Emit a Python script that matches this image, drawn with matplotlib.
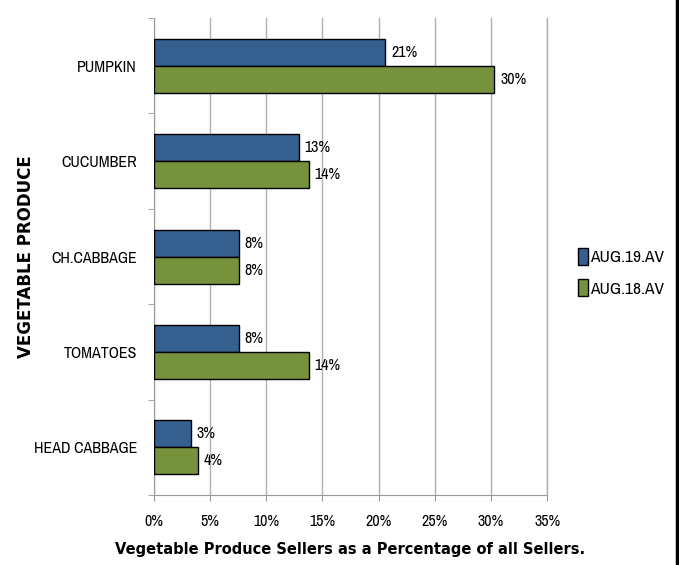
import numpy as np
import matplotlib
matplotlib.use("Agg")
import matplotlib.pyplot as plt
from matplotlib.patches import Patch
from matplotlib import font_manager

# pick a narrow face to stand in for Calibri
names = sorted({f.name for f in font_manager.fontManager.ttflist})
narrow = [n for n in names if "Narrow" in n or "Condensed" in n]
FAM = narrow[0] if narrow else "DejaVu Sans"
plt.rcParams["font.family"] = [FAM, "DejaVu Sans"]
plt.rcParams["font.stretch"] = "condensed"

BLUE = "#355f8f"
GREEN = "#76923c"

categories = ["HEAD CABBAGE", "TOMATOES", "CH.CABBAGE", "CUCUMBER", "PUMPKIN"]
aug19 = [3.3, 7.6, 7.6, 12.9, 20.6]
aug18 = [3.9, 13.8, 7.55, 13.8, 30.3]
labels19 = ["3%", "8%", "8%", "13%", "21%"]
labels18 = ["4%", "14%", "8%", "14%", "30%"]
xticks = [0, 5, 10, 15, 20, 25, 30, 35]

fig = plt.figure(figsize=(6.79, 5.65), dpi=100)
ax = fig.add_axes([0.2264, 0.1239, 0.5797, 0.8442])

y = np.arange(len(categories))
h = 0.283
ax.barh(y + h / 2, aug19, height=h, color=BLUE, edgecolor="black", lw=1.0,
        label="AUG.19.AV", zorder=3)
ax.barh(y - h / 2, aug18, height=h, color=GREEN, edgecolor="black", lw=1.0,
        label="AUG.18.AV", zorder=3)

for yi, v, t in zip(y, aug19, labels19):
    ax.annotate(t, (v, yi + h / 2), textcoords="offset points", xytext=(4, 0),
                va="center", ha="left", fontsize=11.5)
for yi, v, t in zip(y, aug18, labels18):
    ax.annotate(t, (v, yi - h / 2), textcoords="offset points", xytext=(4, 0),
                va="center", ha="left", fontsize=11.5)

ax.set_xlim(0, 35)
ax.set_ylim(-0.5, len(categories) - 0.5)
ax.set_xticks(xticks)
ax.set_xticklabels([f"{t}%" for t in xticks], fontsize=11.5)
ax.set_yticks(y)
ax.set_yticklabels(categories, fontsize=11.5)
ax.set_yticks(np.arange(-0.5, len(categories)), minor=True)
ax.tick_params(axis="y", which="major", length=0, pad=12)
ax.tick_params(axis="y", which="minor", length=4, color="#999999")
ax.tick_params(axis="x", length=4, color="#999999", pad=10)
ax.grid(axis="x", color="#b0b0b0", lw=1.0, zorder=0)
ax.axvline(xticks[-1], color="#b0b0b0", lw=1.0, zorder=0, clip_on=False)
for s in ["top", "right"]:
    ax.spines[s].set_visible(False)
for s in ["left", "bottom"]:
    ax.spines[s].set_color("#999999")

ax.set_xlabel("Vegetable Produce Sellers as a Percentage of all Sellers.",
              fontsize=10.5, fontweight="bold", labelpad=9,
              family="DejaVu Sans", fontstretch="normal")
fig.text(0.038, 0.545, "VEGETABLE PRODUCE", rotation=90, ha="center",
         va="center", fontsize=12, fontweight="bold", family="DejaVu Sans",
         fontstretch="normal")

handles = [Patch(facecolor=BLUE, edgecolor="black", label="AUG.19.AV"),
           Patch(facecolor=GREEN, edgecolor="black", label="AUG.18.AV")]
fig.legend(handles=handles, loc="center left", bbox_to_anchor=(0.8285, 0.518),
           frameon=False, fontsize=12.5, handlelength=0.55, handleheight=1.1,
           handletextpad=0.15, labelspacing=0.8)

# right border line
fig.add_artist(plt.Line2D([0.9965, 0.9965], [0, 1], color="black", lw=2.5,
                          transform=fig.transFigure))

fig.savefig("out.png", dpi=100, facecolor="white")
